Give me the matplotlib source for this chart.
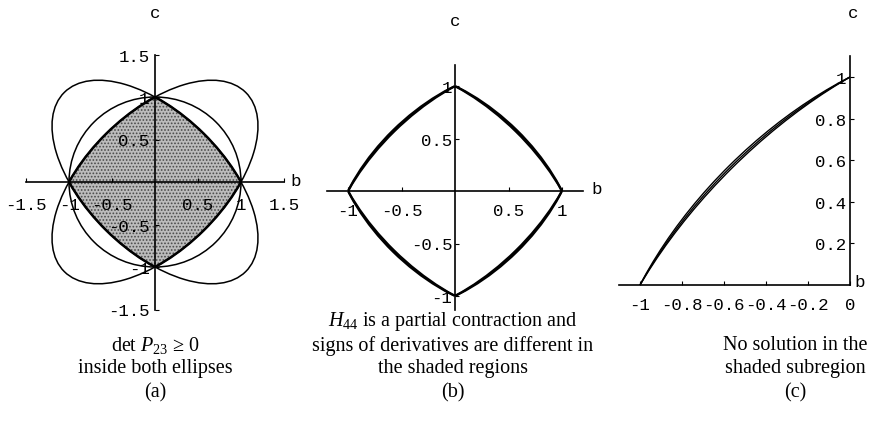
import matplotlib.pyplot as plt
from matplotlib.patches import Ellipse, Circle

plt.rcParams['axes.unicode_minus'] = False
plt.rcParams['mathtext.fontset'] = 'custom'
plt.rcParams['mathtext.rm'] = 'Liberation Serif'
plt.rcParams['mathtext.it'] = 'Liberation Serif:italic'
plt.rcParams['hatch.linewidth'] = 0.8

# tilted ellipses b^2 + c^2 +/- k*b*c = 1 (semi-axes along the diagonals)
ell_minor = 0.803
ell_major = 1.491
circle_r = 1.0

# (b): boundary arcs, (minor, major) pairs
b_minor = [0.803, 0.818]
b_major = [1.491, 1.406]

# (c): band of arcs in the second quadrant
c_minor = [0.795, 0.803, 0.812]
c_major = [1.546, 1.491, 1.439]

ticks_a = [-1.5, -1, -0.5, 0.5, 1, 1.5]
labels_a = ['-1.5', '-1', '-0.5', '0.5', '1', '1.5']
ticks_b = [-1, -0.5, 0.5, 1]
labels_b = ['-1', '-0.5', '0.5', '1']
xticks_c = [-1, -0.8, -0.6, -0.4, -0.2, 0]
xlabels_c = ['-1', '-0.8', '-0.6', '-0.4', '-0.2', '0']
yticks_c = [0.2, 0.4, 0.6, 0.8, 1]
ylabels_c = ['0.2', '0.4', '0.6', '0.8', '1']

caption_a = ['det $P_{23}$ ≥ 0', 'inside both ellipses', '(a)']
caption_b = ['$H_{44}$ is a partial contraction and',
             'signs of derivatives are different in',
             'the shaded regions', '(b)']
caption_c = ['No solution in the', 'shaded subregion', '(c)']

MONO = 'Liberation Mono'
SERIF = 'Liberation Serif'

W, H = 869, 435
fig = plt.figure(figsize=(W / 100, H / 100), dpi=100)


def add_panel(ox, oy, ux, uy, xlim, ylim):
    # place axes so that data origin lands on pixel (ox, oy)
    left = ox + xlim[0] * ux
    right = ox + xlim[1] * ux
    top = oy - ylim[1] * uy
    bottom = oy - ylim[0] * uy
    ax = fig.add_axes([left / W, 1 - bottom / H, (right - left) / W, (bottom - top) / H])
    ax.set_xlim(xlim)
    ax.set_ylim(ylim)
    ax.patch.set_visible(False)
    for s in ['top', 'right']:
        ax.spines[s].set_visible(False)
    for s in ['bottom', 'left']:
        ax.spines[s].set_position(('data', 0))
        ax.spines[s].set_linewidth(1.2)
    return ax


def set_ticks(ax, xt, xl, yt, yl, xpad, ypad):
    ax.set_xticks(xt, xl)
    ax.set_yticks(yt, yl)
    ax.tick_params(direction='in', length=3, width=0.8)
    ax.tick_params(axis='x', pad=xpad)
    ax.tick_params(axis='y', pad=ypad)
    for t in ax.get_xticklabels() + ax.get_yticklabels():
        t.set_fontfamily(MONO)
        t.set_fontsize(12.5)


def tilted(minor, major, sign, **kw):
    # sign=+1: long axis along b=-c, sign=-1: long axis along b=c
    if sign > 0:
        return Ellipse((0, 0), 2 * minor, 2 * major, angle=45, **kw)
    return Ellipse((0, 0), 2 * major, 2 * minor, angle=45, **kw)


def intersection_edge(ax, minor, major, lw):
    e1 = tilted(minor, major, +1, fill=False, lw=lw, ec='black')
    e2 = tilted(minor, major, -1, fill=False, lw=lw, ec='black')
    ax.add_patch(e1)
    ax.add_patch(e2)
    c1 = tilted(minor, major, +1, transform=ax.transData)
    c2 = tilted(minor, major, -1, transform=ax.transData)
    e1.set_clip_path(c2)
    e2.set_clip_path(c1)


# ---- (a) ----
ax = add_panel(155, 183, 86, 85, (-1.5, 1.5), (-1.5, 1.5))
set_ticks(ax, ticks_a, labels_a, ticks_a, labels_a, 11, 4)

shade = tilted(ell_minor, ell_major, +1, fc='#bcbcbc', ec='#4a4a4a', lw=0, hatch='.....')
ax.add_patch(shade)
shade.set_clip_path(tilted(ell_minor, ell_major, -1, transform=ax.transData))

ax.add_patch(tilted(ell_minor, ell_major, +1, fill=False, lw=1.1, ec='black'))
ax.add_patch(tilted(ell_minor, ell_major, -1, fill=False, lw=1.1, ec='black'))
ax.add_patch(Circle((0, 0), circle_r, fill=False, lw=1.1, ec='black'))
intersection_edge(ax, ell_minor, ell_major, 1.8)

ax.text(0, 2.0, 'c', family=MONO, fontsize=12.5, ha='center', va='center')
ax.text(1.63, 0.02, 'b', family=MONO, fontsize=12.5, ha='center', va='center')

# ---- (b) ----
ax = add_panel(455, 192, 107, 105, (-1.2, 1.2), (-1.13, 1.2))
set_ticks(ax, ticks_b, labels_b, ticks_b, labels_b, 9, 2)
for mn, mj in zip(b_minor, b_major):
    intersection_edge(ax, mn, mj, 1.6)

ax.text(0, 1.62, 'c', family=MONO, fontsize=12.5, ha='center', va='center')
ax.text(1.32, 0.02, 'b', family=MONO, fontsize=12.5, ha='center', va='center')

# ---- (c) ----
ax = add_panel(850, 286, 210, 208, (-1.1, 0.0), (0.0, 1.1))
set_ticks(ax, xticks_c, xlabels_c, yticks_c, ylabels_c, 9, 3)
for mn, mj in zip(c_minor, c_major):
    ax.add_patch(tilted(mn, mj, -1, fill=False, lw=1.0, ec='black'))

ax.text(0.015, 1.31, 'c', family=MONO, fontsize=12.5, ha='center', va='center', clip_on=False)
ax.text(0.048, 0.015, 'b', family=MONO, fontsize=12.5, ha='center', va='center', clip_on=False)

# ---- captions ----
for cx, lines, ys in [(155, caption_a, [346, 369, 393]),
                      (453, caption_b, [322, 346, 369, 393]),
                      (795, caption_c, [346, 369, 393])]:
    for line, y in zip(lines, ys):
        fig.text(cx / W, 1 - y / H, line, family=SERIF, fontsize=14.5,
                 ha='center', va='center')

fig.savefig('out.png', dpi=100)
